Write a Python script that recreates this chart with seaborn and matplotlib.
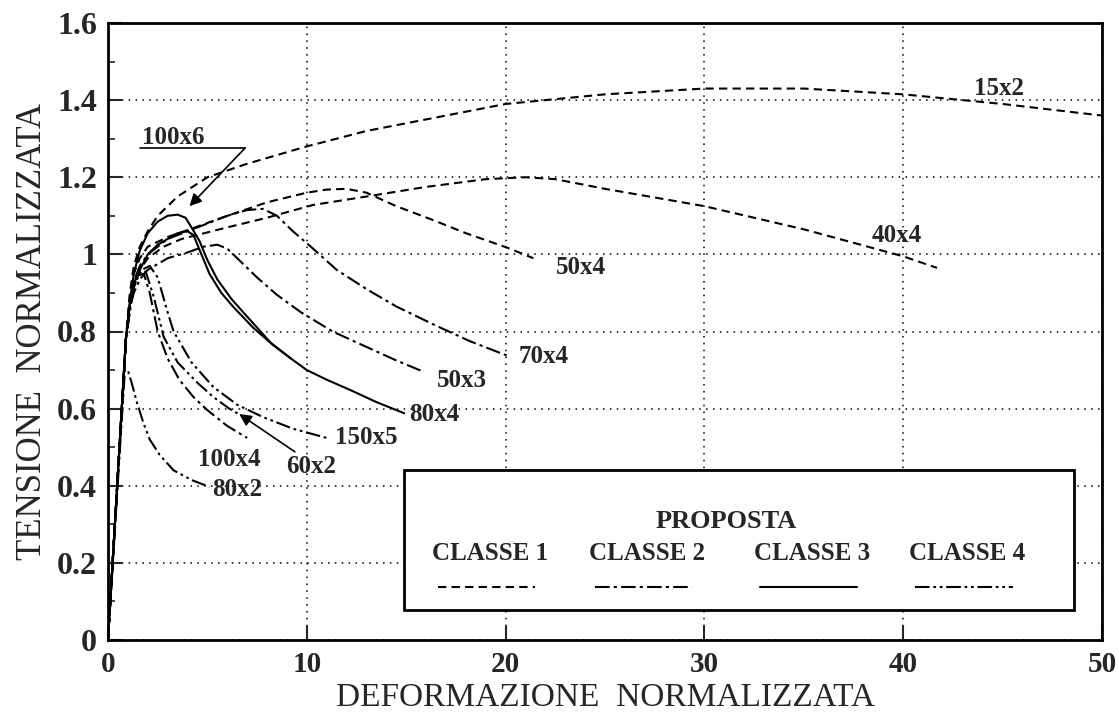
"""Tension-deformation curves, normalised, grouped by section class"""

import matplotlib.pyplot as plt
import numpy as np
import pandas as pd
import seaborn as sns
from matplotlib.patches import Rectangle
from matplotlib.ticker import FuncFormatter, MultipleLocator

# --- data ----------------------------------------------------------------
specimens = ['15x2', '40x4', '50x4', '70x4', '50x3', '100x6', '80x4',
             '100x4', '60x2', '150x5', '80x2']
classes = ['CLASSE 1', 'CLASSE 1', 'CLASSE 1', 'CLASSE 2', 'CLASSE 2',
           'CLASSE 3', 'CLASSE 3', 'CLASSE 2', 'CLASSE 4', 'CLASSE 4',
           'CLASSE 4']

x_15x2 = [0, 0.9, 1.1, 1.3, 1.6, 2.0, 2.5, 3.5, 5, 7, 10, 13, 16, 20, 25, 30,
          35, 40, 45, 50]
y_15x2 = [0, 0.78, 0.90, 0.97, 1.02, 1.06, 1.10, 1.15, 1.20, 1.235, 1.28, 1.32,
          1.35, 1.39, 1.415, 1.43, 1.43, 1.415, 1.39, 1.36]

x_40x4 = [0, 0.9, 1.1, 1.3, 1.6, 2, 2.8, 3.7, 6, 8, 10.3, 13, 16, 19, 21, 22.5,
          25, 30, 35, 40, 41.7]
y_40x4 = [0, 0.78, 0.87, 0.92, 0.96, 0.99, 1.02, 1.04, 1.07, 1.095, 1.128, 1.15,
          1.175, 1.195, 1.20, 1.195, 1.17, 1.125, 1.065, 0.995, 0.965]

x_50x4 = [0, 0.9, 1.1, 1.3, 1.6, 2, 3, 4, 6, 8, 10, 11, 12, 13, 14.5, 16.3, 18,
          20.1, 21.4]
y_50x4 = [0, 0.78, 0.89, 0.95, 0.99, 1.02, 1.045, 1.063, 1.10, 1.135, 1.16,
          1.168, 1.17, 1.16, 1.125, 1.09, 1.055, 1.017, 0.99]

x_70x4 = [0, 0.9, 1.1, 1.3, 1.6, 2, 3, 4, 5, 6, 7, 7.8, 8.5, 9.3, 10.2, 11.5,
          13, 14.5, 16.3, 18.2, 20.2]
y_70x4 = [0, 0.78, 0.88, 0.93, 0.97, 1.0, 1.04, 1.06, 1.08, 1.10, 1.115, 1.118,
          1.10, 1.06, 1.02, 0.96, 0.91, 0.865, 0.82, 0.775, 0.735]

x_50x3 = [0, 0.9, 1.1, 1.3, 1.6, 2, 3, 4, 4.8, 5.5, 6.0, 6.5, 7.5, 8.5, 9.7,
          11.3, 13, 14.5, 15.9]
y_50x3 = [0, 0.78, 0.86, 0.90, 0.935, 0.96, 0.99, 1.005, 1.02, 1.025, 1.015,
          0.99, 0.94, 0.895, 0.85, 0.80, 0.76, 0.725, 0.695]

x_100x6 = [0, 0.9, 1.1, 1.3, 1.6, 2.0, 2.5, 3.0, 3.5, 3.9, 4.2, 4.6, 5.0, 5.5,
           6.2, 6.8, 7.5, 8.2, 9.2]
y_100x6 = [0, 0.78, 0.88, 0.95, 1.01, 1.055, 1.085, 1.10, 1.103, 1.095, 1.07,
           1.035, 0.985, 0.935, 0.885, 0.85, 0.81, 0.77, 0.73]

x_80x4 = [0, 0.9, 1.1, 1.4, 2, 2.5, 3, 3.5, 4.0, 4.3, 4.7, 5.1, 5.7, 6.3, 7.3,
          8.3, 9.2, 10, 11, 12.2, 13.5, 14.9]
y_80x4 = [0, 0.78, 0.87, 0.94, 1.0, 1.025, 1.04, 1.055, 1.06, 1.05, 1.0, 0.95,
          0.90, 0.864, 0.81, 0.765, 0.73, 0.70, 0.675, 0.648, 0.617, 0.588]

x_100x4 = [0, 0.9, 1.2, 1.5, 1.8, 2.1, 2.5, 3.0, 3.6, 4.3, 5, 6, 7]
y_100x4 = [0, 0.78, 0.90, 0.945, 0.95, 0.90, 0.80, 0.73, 0.674, 0.63, 0.596,
           0.555, 0.524]

x_60x2 = [0, 0.9, 1.2, 1.6, 1.9, 2.3, 2.8, 3.5, 4.5, 5.3, 6.1, 6.6]
y_60x2 = [0, 0.78, 0.90, 0.955, 0.955, 0.89, 0.786, 0.72, 0.667, 0.63, 0.60,
          0.585]

x_150x5 = [0, 0.9, 1.3, 1.7, 2.1, 2.5, 3.0, 3.3, 4.2, 5.3, 6.5, 7.8, 9.3, 11]
y_150x5 = [0, 0.78, 0.92, 0.96, 0.97, 0.94, 0.85, 0.80, 0.72, 0.656, 0.61,
           0.578, 0.548, 0.524]

x_80x2 = [0, 0.85, 1.0, 1.2, 1.46, 1.8, 2.1, 2.6, 3.3, 4.2, 5.1]
y_80x2 = [0, 0.70, 0.70, 0.665, 0.615, 0.56, 0.52, 0.48, 0.44, 0.415, 0.397]

curves = {
    '15x2': (x_15x2, y_15x2), '40x4': (x_40x4, y_40x4),
    '50x4': (x_50x4, y_50x4), '70x4': (x_70x4, y_70x4),
    '50x3': (x_50x3, y_50x3), '100x6': (x_100x6, y_100x6),
    '80x4': (x_80x4, y_80x4), '100x4': (x_100x4, y_100x4),
    '60x2': (x_60x2, y_60x2), '150x5': (x_150x5, y_150x5),
    '80x2': (x_80x2, y_80x2),
}

# where each specimen name sits (data coords)
label_pos = {
    '15x2': (44.8, 1.43), '40x4': (39.7, 1.05), '50x4': (23.8, 0.965),
    '70x4': (21.9, 0.734), '50x3': (17.8, 0.674), '80x4': (16.4, 0.584),
    '150x5': (13.0, 0.526), '60x2': (10.2, 0.451), '100x4': (6.1, 0.469),
    '80x2': (6.5, 0.389), '100x6': (3.3, 1.302),
}

dashes = {
    'CLASSE 1': (4, 2.5),
    'CLASSE 2': (7, 2, 1.5, 2),
    'CLASSE 3': '',
    'CLASSE 4': (7, 1.8, 1.3, 1.8, 1.3, 1.8),
}

rows = []
for name, cls in zip(specimens, classes):
    xs, ys = curves[name]
    for xv, yv in zip(xs, ys):
        rows.append({'specimen': name, 'classe': cls, 'x': xv, 'y': yv})
df = pd.DataFrame(rows)

# --- plot ----------------------------------------------------------------
sns.set_theme(style='white')
plt.rcParams['font.family'] = ['Liberation Serif', 'DejaVu Serif']

fig = plt.figure(figsize=(11.19, 7.18), dpi=100)
ax = fig.add_axes([108 / 1119, 78 / 718, (1102 - 108) / 1119, (640 - 23) / 718])

sns.lineplot(data=df, x='x', y='y', units='specimen', style='classe',
             estimator=None, sort=False, dashes=dashes, color='black',
             linewidth=1.5, legend=False, ax=ax)

ax.set_xlim(0, 50)
ax.set_ylim(0, 1.6)
ax.xaxis.set_major_locator(MultipleLocator(10))
ax.yaxis.set_major_locator(MultipleLocator(0.2))
ax.yaxis.set_minor_locator(MultipleLocator(0.1))
ax.yaxis.set_major_formatter(FuncFormatter(lambda v, p: f'{v:g}'))
ax.grid(True, which='major', color='black', linestyle=(0, (1, 3.5)), linewidth=1.1)
ax.tick_params(axis='both', which='major', direction='in', length=10, width=1.5,
               left=True, bottom=True, pad=8)
ax.tick_params(axis='y', which='minor', direction='in', length=5, width=1.2, left=True)
ax.tick_params(axis='y', labelsize=23)
ax.tick_params(axis='x', labelsize=21)
for lab in ax.get_xticklabels() + ax.get_yticklabels():
    lab.set_fontweight('bold')
for sp in ax.spines.values():
    sp.set_color('black')
    sp.set_linewidth(2)

ax.set_xlabel('DEFORMAZIONE  NORMALIZZATA', fontsize=24, labelpad=3)
ax.set_ylabel('TENSIONE  NORMALIZZATA', fontsize=25, labelpad=6)

for name, (tx, ty) in label_pos.items():
    ax.text(tx, ty, name, fontsize=18, fontweight='bold', ha='center', va='center')

# underline + arrow for 100x6, arrow for 60x2
ax.plot([1.6, 6.9], [1.276, 1.276], color='black', lw=1.2)
ax.annotate('', xy=(4.1, 1.125), xytext=(6.9, 1.276),
            arrowprops=dict(arrowstyle='-|>', color='black', lw=1.2,
                            mutation_scale=18, shrinkA=0, shrinkB=0))
ax.annotate('', xy=(6.6, 0.586), xytext=(9.4, 0.488),
            arrowprops=dict(arrowstyle='-|>', color='black', lw=1.2,
                            mutation_scale=18, shrinkA=0, shrinkB=0))

# legend box
ax.add_patch(Rectangle((14.9, 0.078), 48.6 - 14.9, 0.441 - 0.078, facecolor='white',
                       edgecolor='black', lw=2, zorder=5))
ax.text(31.1, 0.306, 'PROPOSTA', fontsize=19, fontweight='bold', ha='center',
        va='center', zorder=6)
leg_x = [19.2, 27.1, 35.4, 43.2]
for cx, cls in zip(leg_x, ['CLASSE 1', 'CLASSE 2', 'CLASSE 3', 'CLASSE 4']):
    ax.text(cx, 0.2256, cls, fontsize=18, fontweight='bold', ha='center',
            va='center', zorder=6)
    dsh = dashes[cls]
    ls = '-' if dsh == '' else (0, dsh)
    ax.plot([cx - 2.6, cx + 2.3], [0.137, 0.137], color='black', lw=1.5,
            linestyle=ls, zorder=6)

fig.savefig('out.png', dpi=100)
